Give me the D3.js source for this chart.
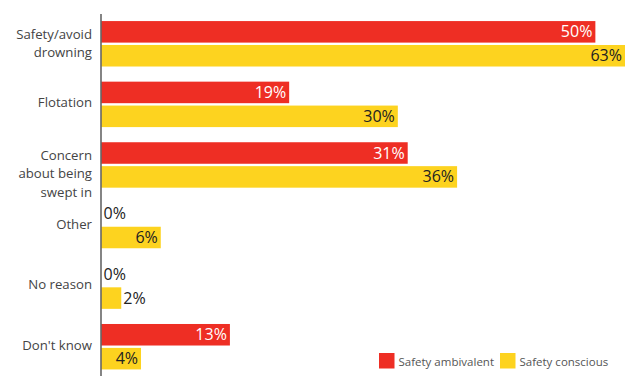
<!DOCTYPE html>
<html>
<head>
<meta charset="utf-8">
<script src="https://cdn.jsdelivr.net/npm/d3@7/dist/d3.min.js"></script>
<style>
  html, body { margin: 0; padding: 0; background: #fff; }
  svg { display: block; font-family: "Open Sans", "Noto Sans", sans-serif; }
</style>
</head>
<body>
<svg id="chart" width="638" height="376"></svg>
<script>
// Reasons given, one entry per row (line breaks mark how each label wraps)
const categories = [
  "Safety/avoid\ndrowning",
  "Flotation",
  "Concern\nabout being\nswept in",
  "Other",
  "No reason",
  "Don't know"
];
const seriesNames = ["Safety ambivalent", "Safety conscious"];
const ambivalent = [50, 19, 31, 0, 0, 13];
const conscious  = [63, 30, 36, 6, 2, 4];
const colors = ["#ee2e24", "#fdd31f"];
const labelColors = ["#ffffff", "#222222"];

const svg = d3.select("#chart");
const W = 638, H = 376;

// Horizontal value scale; bars past the plot edge are cut off at it
const x = d3.scaleLinear().domain([0, 53]).range([101.5, 625]).clamp(true);
const y = d3.scaleBand().domain(categories).range([13.5, 377])
  .paddingInner(0.25).paddingOuter(0.125);
const sub = d3.scaleBand().domain(seriesNames).range([0, y.bandwidth()]).paddingInner(0.1);

const rows = categories.map((c, i) => ({
  category: c,
  values: [
    { series: seriesNames[0], value: ambivalent[i], k: 0 },
    { series: seriesNames[1], value: conscious[i], k: 1 }
  ]
}));

const g = svg.append("g");
const groups = g.selectAll("g.row").data(rows).join("g")
  .attr("class", "row")
  .attr("transform", d => `translate(0,${y(d.category)})`);

groups.selectAll("rect").data(d => d.values).join("rect")
  .attr("x", x(0))
  .attr("y", d => sub(d.series))
  .attr("width", d => x(d.value) - x(0))
  .attr("height", sub.bandwidth())
  .attr("fill", d => colors[d.k]);

// Value labels: inside the bar end when they fit, otherwise just past it
groups.selectAll("text.val").data(d => d.values).join("text")
  .attr("class", "val")
  .attr("y", d => sub(d.series) + sub.bandwidth() / 2 + 5.5)
  .attr("font-size", 16)
  .text(d => d.value + "%")
  .each(function(d) {
    const t = d3.select(this);
    const tw = this.getComputedTextLength();
    const bw = x(d.value) - x(0);
    if (bw > tw + 8) {
      t.attr("x", x(d.value) - 3).attr("text-anchor", "end").attr("fill", labelColors[d.k]);
    } else {
      t.attr("x", x(d.value) + 2).attr("text-anchor", "start").attr("fill", "#222");
    }
  });

// Category labels, right aligned against the axis
const lh = 18.3;
groups.append("text")
  .attr("class", "cat")
  .attr("text-anchor", "end")
  .attr("font-size", 13.2)
  .attr("fill", "#444")
  .each(function(d) {
    const lines = d.category.split("\n");
    const n = lines.length;
    const first = y.bandwidth() / 2 + 3 - Math.min(n - 1, 1) * 8;
    const t = d3.select(this);
    lines.forEach((ln, i) => {
      t.append("tspan").attr("x", 92).attr("y", first + i * lh).text(ln);
    });
  });

// Vertical axis line
svg.append("line")
  .attr("x1", 101).attr("x2", 101)
  .attr("y1", 14).attr("y2", H)
  .attr("stroke", "#333").attr("stroke-width", 1.2);

// Legend
const legendX = [379, 500];
const legend = svg.append("g").selectAll("g").data(seriesNames).join("g")
  .attr("transform", (d, i) => `translate(${legendX[i]},353)`);
legend.append("rect").attr("width", 15.5).attr("height", 15.5)
  .attr("fill", (d, i) => colors[i]);
legend.append("text").attr("x", 19.5).attr("y", 13)
  .attr("font-size", 11.5).attr("fill", "#555")
  .text(d => d);
</script>
</body>
</html>
